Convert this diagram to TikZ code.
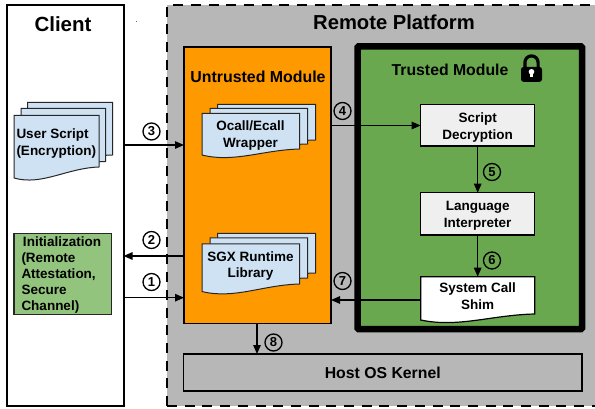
\documentclass[tikz,border=0pt]{standalone}
\usepackage{fontspec}
\setmainfont{Liberation Sans}
\usetikzlibrary{arrows.meta}
\definecolor{platgray}{HTML}{B7B7B7}
\definecolor{untrust}{HTML}{FF9900}
\definecolor{trust}{HTML}{6AA84F}
\definecolor{docblue}{HTML}{CFE2F3}
\definecolor{initgreen}{HTML}{93C47D}
\definecolor{boxgray}{HTML}{EFEFEF}
\tikzset{
  x=1pt,y=-1pt,
  pbox/.style={rectangle,outer sep=0pt,inner sep=0pt,align=center,font=\bfseries\fontsize{13.5}{16.5}\selectfont},
  conn/.style={line width=1.2pt,-{Triangle[length=9pt,width=7.5pt]}},
  num/.style={circle,draw,line width=1.3pt,minimum size=17pt,inner sep=0pt,font=\bfseries\fontsize{13}{13}\selectfont},
  docpage/.style={draw=black!85,line width=1pt,fill=docblue},
}
% name, x1, y1, x2, y2, style, text
\newcommand{\pbox}[7]{\node[pbox,minimum width={(#4)-(#2)},minimum height={(#5)-(#3)},#6] (#1) at ({((#2)+(#4))/2},{((#3)+(#5))/2}) {#7};}
% x1, y1, x2, y-left-bottom, y-right-bottom, style
\newcommand{\waveshape}[6]{\draw[#6] (#1,#2) -- (#3,#2) -- (#3,#5) .. controls ({(#1)+0.62*((#3)-(#1))},{(#5)+1}) and ({(#1)+0.33*((#3)-(#1))},{(#4)+8}) .. (#1,#4) -- cycle;}
\begin{document}
\begin{tikzpicture}
\useasboundingbox (0,0) rectangle (595,409);
% remote platform
\fill[platgray] (167,5) rectangle (595,406);
\draw[line width=2.2pt,dash pattern=on 10pt off 7.7pt] (167,406) -- (167,5) -- (595,5);
\draw[line width=2.2pt,dash pattern=on 10pt off 7.7pt] (167,406) -- (595,406);
\pbox{remote}{290}{10}{498}{34}{font=\bfseries\fontsize{20.2}{20}\selectfont}{Remote Platform}
% client
\pbox{client}{6.5}{5}{123.5}{406}{draw,line width=2pt,fill=white}{}
\node[pbox,font=\bfseries\fontsize{20.5}{20}\selectfont] (clienttitle) at (63,24) {Client};
\fill[black!60] (135.5,20.8) rectangle (137,21.8);
% user script stack
\waveshape{27.5}{102.5}{112.5}{155}{155}{docpage}
\waveshape{21}{108.5}{105.5}{161.5}{161.5}{docpage}
\waveshape{14}{115.5}{99}{178}{167}{docpage}
\node[pbox,align=left,anchor=west] (userscript) at (16.5,143.5) {User Script\\(Encryption)};
% init
\pbox{init}{14}{233.5}{111.5}{314.5}{draw=black!85,line width=1.2pt,fill=initgreen}{}
\node[pbox,align=left,anchor=west,font=\bfseries\fontsize{13.5}{16}\selectfont] (initlabel) at (21.5,275) {\hspace*{1.5pt}Initialization\\(Remote\\Attestation,\\Secure\\Channel)};
% untrusted
\pbox{untrusted}{184}{47}{331}{323.5}{draw,line width=1.6pt,fill=untrust}{}
\node[pbox,font=\bfseries\fontsize{15.9}{14}\selectfont] (untitle) at (258,76.5) {Untrusted Module};
\waveshape{217.5}{104.5}{315.5}{140}{140}{docpage}
\waveshape{210}{108.5}{307.5}{144}{144}{docpage}
\waveshape{202}{113.5}{299.5}{155}{149}{docpage}
\node[pbox] (wrapper) at (250.5,135.5) {Ocall/Ecall\\Wrapper};
\waveshape{217.5}{233.5}{315.5}{273}{273}{docpage}
\waveshape{210}{238}{307.5}{278}{278}{docpage}
\waveshape{202}{244}{299.5}{291.5}{284}{docpage}
\node[pbox] (sgx) at (250.5,266) {SGX Runtime\\Library};
% trusted
\draw[line width=6.5pt,rounded corners=1pt,fill=trust] (357.5,46.5) rectangle (582,329);
\node[pbox,font=\bfseries\fontsize{15.8}{14}\selectfont] (trtitle) at (450,69.5) {Trusted Module};
% lock
\draw[line width=3.2pt] (524.9,70) -- (524.9,62.5) arc[start angle=180,end angle=360,radius=6.6] -- (538.1,70);
\fill[rounded corners=2.5pt] (521,67) rectangle (542,81.8);
\fill[white] (531.5,71.8) circle[radius=2.8];
\fill[white] (530.2,72.5) rectangle (532.8,77.5);
% inner boxes
\pbox{decrypt}{420.7}{104.5}{534.7}{146}{draw,line width=1.2pt,fill=boxgray}{}
\node[pbox] (decryptlabel) at (477.7,127.3) {Script\\Decryption};
\pbox{interp}{420.7}{192.7}{534.7}{235}{draw,line width=1.2pt,fill=boxgray}{}
\node[pbox] (interplabel) at (477.7,215.8) {Language\\Interpreter};
\waveshape{420.7}{276.7}{534.7}{320}{314}{draw,line width=1.2pt,fill=white}
\pbox{shim}{420.7}{276.7}{534.7}{315.5}{}{System Call\\Shim}
% kernel
\pbox{kernel}{183.5}{354}{582}{391}{draw,line width=1.2pt,font=\bfseries\fontsize{15.8}{14}\selectfont}{Host OS Kernel}
% connector levels
\coordinate (l3) at (0,145);
\coordinate (l2) at (0,256);
\coordinate (l1) at (0,297.7);
\coordinate (l4) at (0,125.5);
\coordinate (l7) at (0,300);
\coordinate (l8) at (257,0);
\draw[conn] (client.east |- l3) -- (untrusted.west |- l3);
\draw[conn] (untrusted.west |- l2) -- (client.east |- l2);
\draw[conn] (client.east |- l1) -- (untrusted.west |- l1);
\draw[conn] (untrusted.east |- l4) -- (decrypt.west |- l4);
\draw[conn] (decrypt) -- (interp);
\draw[conn] (interp) -- (shim.north);
\draw[conn] (shim.west |- l7) -- (untrusted.east |- l7);
\draw[conn] (untrusted.south -| l8) -- (kernel.north -| l8);
% step numbers
\node[num] (n3) at (151.5,131.5) {3};
\node[num] (n2) at (151.5,240) {2};
\node[num] (n1) at (151.5,282) {1};
\node[num] (n4) at (342.5,111) {4};
\node[num] (n5) at (492,172) {5};
\node[num] (n6) at (492,260.5) {6};
\node[num] (n7) at (342.5,281) {7};
\node[num] (n8) at (273.5,342.5) {8};
\end{tikzpicture}
\end{document}
